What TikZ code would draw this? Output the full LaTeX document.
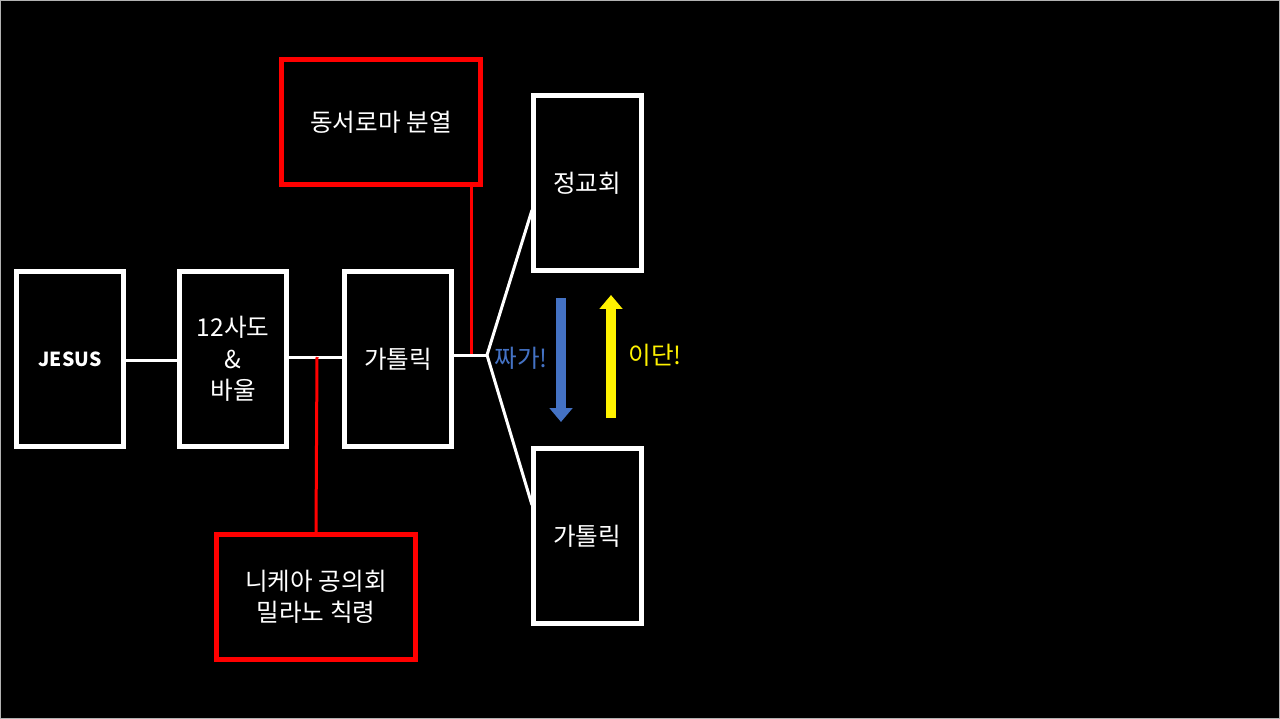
\documentclass[tikz,border=0pt]{standalone}
\usepackage{fontspec}
\setmainfont{Noto Sans CJK KR}
\usetikzlibrary{arrows.meta}
\begin{document}
\begin{tikzpicture}[x=0.02cm,y=-0.02cm,
  wbox/.style={draw=white,line width=0.1cm,minimum width=2.16cm,minimum height=3.5cm,text=white,font=\fontsize{14}{18}\selectfont,align=center,inner sep=0pt},
  rbox/.style={draw=red,line width=0.1cm,minimum width=4.0cm,minimum height=2.5cm,text=white,font=\fontsize{14}{18}\selectfont,align=center},
  wl/.style={draw=white,line width=0.06cm},
  rl/.style={draw=red,line width=0.06cm}]
\fill[black] (0,0) rectangle (1280,719);
\draw[gray!60,line width=0.02cm] (0.5,0.5) rectangle (1279.5,718.5);
\useasboundingbox (0,0) rectangle (1280,719);
\node[wbox,font=\fontsize{11}{14}\selectfont\bfseries] (j) at (70,359) {JESUS};
\node[wbox] (a) at (233,359) {12사도\\\&\\바울};
\node[wbox] (c) at (398,359) {가톨릭};
\node[rbox] (e) at (381,122) {동서로마 분열};
\node[rbox] (n) at (316,597) {니케아 공의회\\밀라노 칙령};
\node[wbox] (o) at (587,183) {정교회};
\node[wbox] (c2) at (587,536) {가톨릭};
\draw[wl] (j.east|-0,360) -- (a.west|-0,360);
\draw[wl] (a.east|-0,357) -- (c.west|-0,357);
\coordinate (m) at (317,357);
\draw[rl] (m) -- (n.north|-0,532);
\coordinate (s) at (471,355);
\coordinate (f) at (487,355);
\draw[rl] (e.south-|s) -- (s);
\draw[wl] (c.east|-s) -- (f);
\draw[wl] (f) -- (532,210);
\draw[wl] (f) -- (532,505);
\coordinate (b1) at (561,298); \coordinate (b2) at (561,422);
\draw[line width=0.2cm,draw={rgb,255:red,68;green,114;blue,196},-{Triangle[width=0.45cm,length=0.28cm]}] (b1) -- (b2);
\coordinate (y1) at (611,418); \coordinate (y2) at (611,295);
\draw[line width=0.2cm,draw=yellow,-{Triangle[width=0.45cm,length=0.28cm]}] (y1) -- (y2);
\node[text={rgb,255:red,68;green,114;blue,196},font=\fontsize{14}{18}\selectfont] (t1) at (521,358) {짜가!};
\node[text=yellow,font=\fontsize{14}{18}\selectfont] (t2) at (655,355) {이단!};
\end{tikzpicture}
\end{document}
